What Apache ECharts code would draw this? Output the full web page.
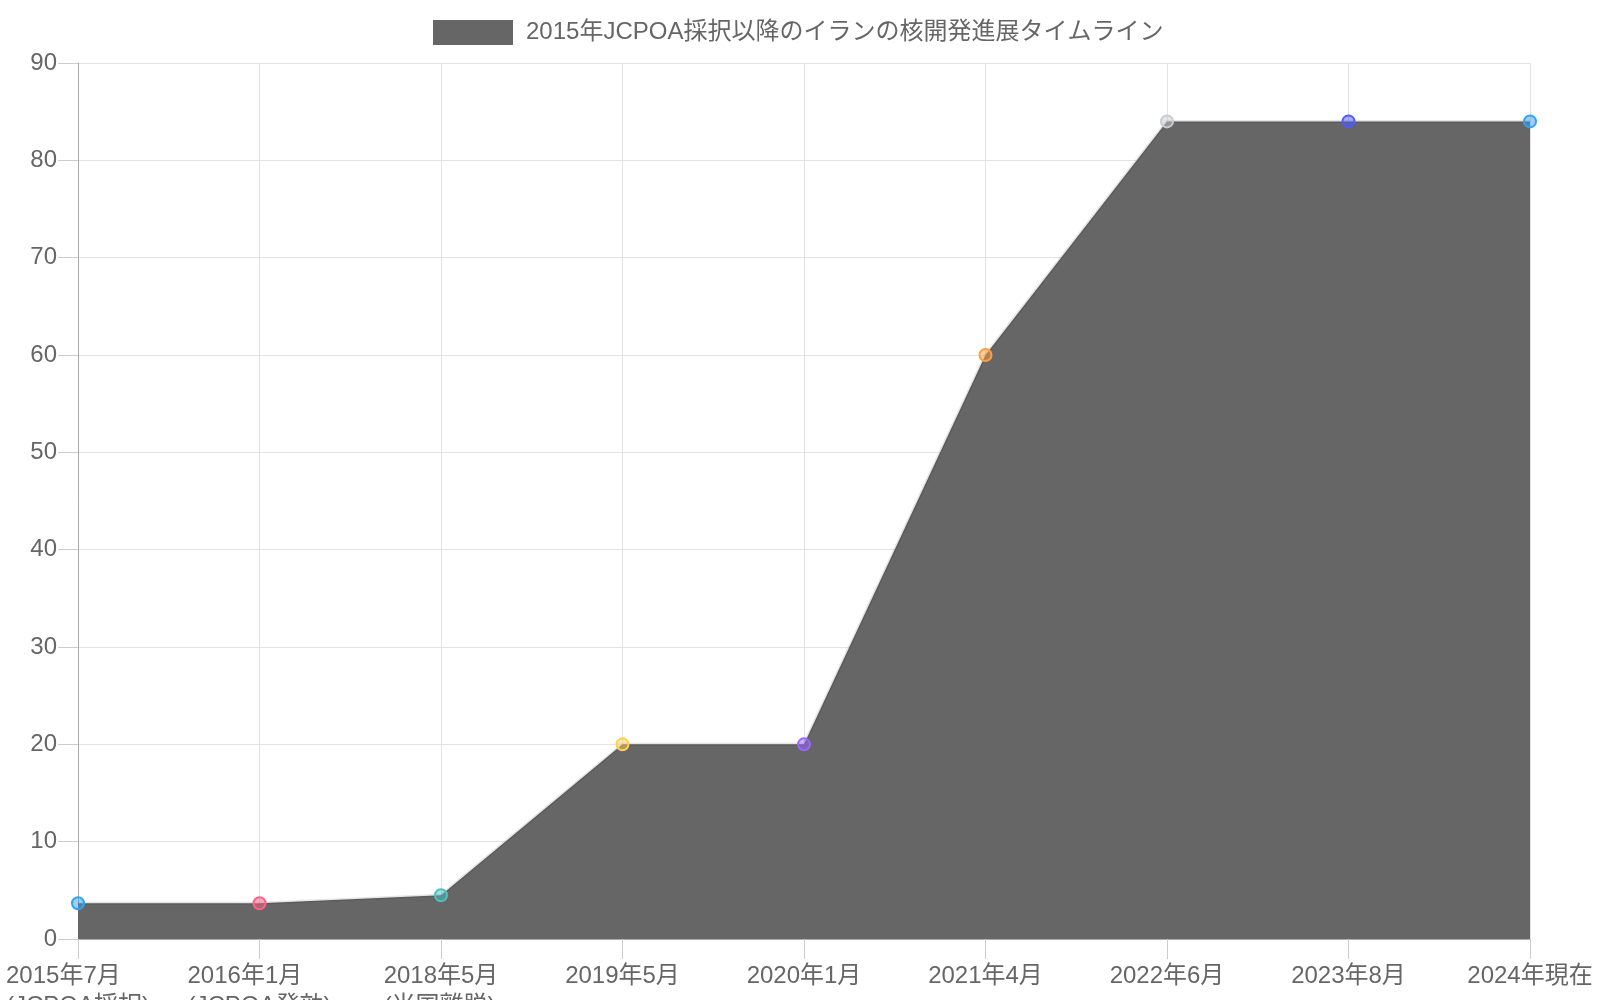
<!DOCTYPE html>
<html>
<head>
<meta charset="utf-8">
<script src="https://cdn.jsdelivr.net/npm/echarts@6/dist/echarts.min.js"></script>
<style>
html, body { margin: 0; padding: 0; background: #fff; }
#container { width: 1600px; height: 1000px; }
</style>
</head>
<body>
<div id="container"></div>
<script>
var seriesName = '2015年JCPOA採択以降のイランの核開発進展タイムライン';
var categories = ['2015年7月', '2016年1月', '2018年5月', '2019年5月', '2020年1月', '2021年4月', '2022年6月', '2023年8月', '2024年現在'];
var notes = ['(JCPOA採択)', '(JCPOA発効)', '(米国離脱)', '', '', '', '', '', ''];
var values = [3.67, 3.67, 4.5, 20, 20, 60, 84, 84, 84];
var yTicks = [0, 10, 20, 30, 40, 50, 60, 70, 80, 90];

// point colours (style only)
var pointColors = [
    [54, 162, 235], [255, 99, 132], [75, 192, 192], [255, 205, 86], [153, 102, 255],
    [255, 159, 64], [201, 203, 207], [77, 91, 255], [54, 162, 235]
];

var font = "'Liberation Sans', 'Noto Sans CJK JP', sans-serif";

var dom = document.getElementById('container');
var myChart = echarts.init(dom);

var option = {
    animation: false,
    textStyle: { fontFamily: font },
    legend: {
        top: 15,
        left: 428,
        icon: 'rect',
        itemWidth: 80,
        itemHeight: 25,
        itemStyle: { color: '#666', borderWidth: 0 },
        textStyle: { fontSize: 24, color: '#666', fontFamily: font, padding: [0, 0, 0, 8] },
        data: [seriesName]
    },
    grid: { left: 78, right: 70, top: 63, bottom: 61, outerBoundsMode: 'none', containLabel: false },
    xAxis: {
        type: 'category',
        boundaryGap: false,
        data: categories,
        axisLine: { lineStyle: { color: '#aaa', width: 1 } },
        axisTick: { show: true, length: 20, inside: false, lineStyle: { color: '#ccc' } },
        splitLine: { show: true, lineStyle: { color: '#e3e3e3', width: 1 } },
        axisLabel: {
            interval: 0,
            margin: 22,
            color: '#666',
            fontSize: 24,
            fontFamily: font,
            formatter: function (v, i) {
                if (notes[i]) {
                    return '{a|' + v + '}\n{a|' + notes[i] + '}';
                }
                return '{a|' + v + '}';
            },
            rich: {
                a: { fontSize: 24, color: '#666', fontFamily: font, lineHeight: 30, align: 'left' }
            }
        }
    },
    yAxis: {
        type: 'value',
        min: yTicks[0],
        max: yTicks[yTicks.length - 1],
        interval: 10,
        axisLine: { show: true, lineStyle: { color: '#aaa', width: 1 } },
        axisTick: { show: true, length: 20, lineStyle: { color: '#ccc' } },
        splitLine: { show: true, lineStyle: { color: '#e3e3e3', width: 1 } },
        axisLabel: { margin: 21, color: '#666', fontSize: 24, fontFamily: font }
    },
    series: [{
        name: seriesName,
        type: 'line',
        data: values.map(function (v, i) {
            var c = pointColors[i];
            return {
                value: v,
                itemStyle: {
                    color: 'rgba(' + c.join(',') + ',0.5)',
                    borderColor: 'rgb(' + c.join(',') + ')',
                    borderWidth: 2
                }
            };
        }),
        symbol: 'circle',
        symbolSize: 12,
        showAllSymbol: true,
        itemStyle: { color: '#666' },
        lineStyle: { color: 'rgba(0,0,0,0.1)', width: 3 },
        areaStyle: { color: '#666', opacity: 1 },
        z: 3
    }]
};

myChart.setOption(option);
</script>
</body>
</html>
